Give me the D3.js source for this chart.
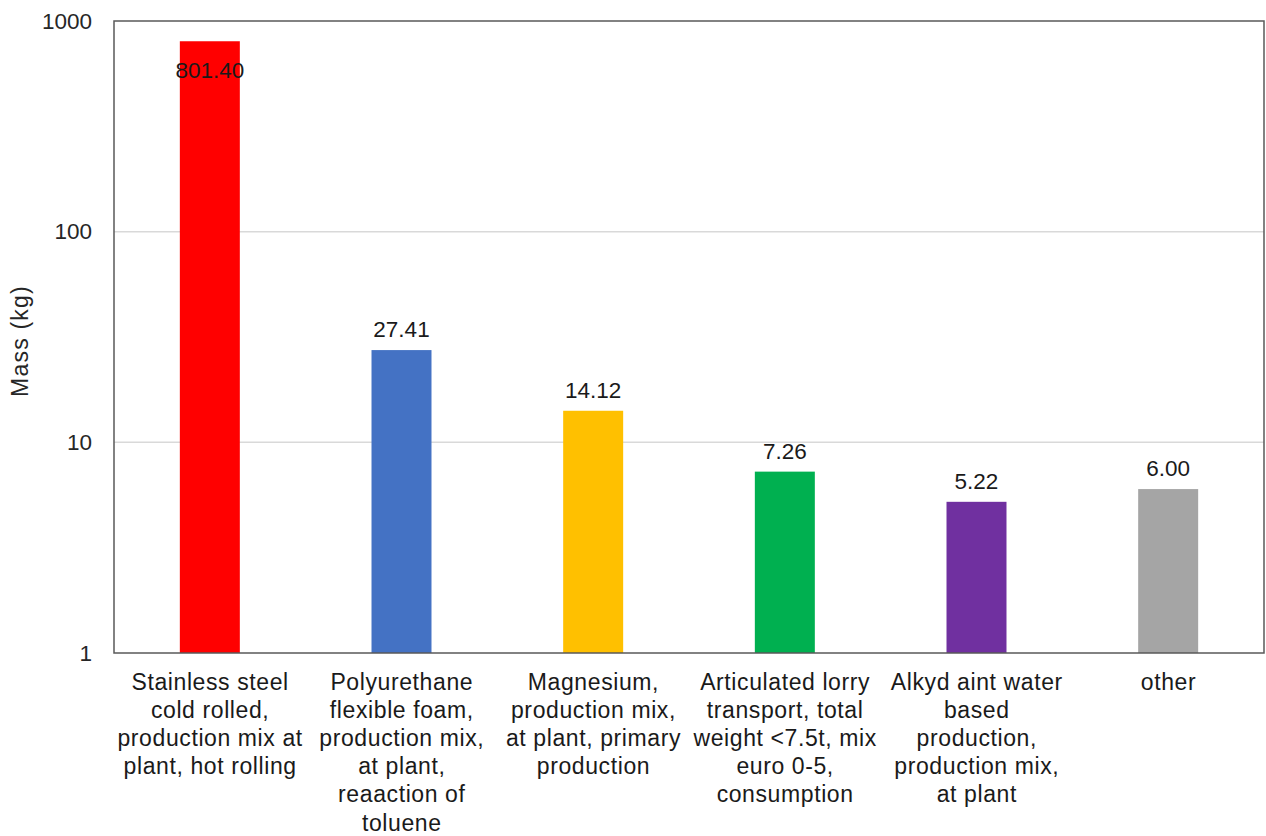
<!DOCTYPE html>
<html><head><meta charset="utf-8">
<script src="https://cdn.jsdelivr.net/npm/d3@7"></script>
<style>body{margin:0;background:#fff}svg{display:block;font-family:"Liberation Sans",Arial,sans-serif}</style>
</head><body>
<svg id="c" width="1266" height="836"></svg>
<script>
const categories = [
  ["Stainless steel","cold rolled,","production mix at","plant, hot rolling"],
  ["Polyurethane","flexible foam,","production mix,","at plant,","reaaction of","toluene"],
  ["Magnesium,","production mix,","at plant, primary","production"],
  ["Articulated lorry","transport, total","weight <7.5t, mix","euro 0-5,","consumption"],
  ["Alkyd aint water","based","production,","production mix,","at plant"],
  ["other"]
];
const values = [801.40, 27.41, 14.12, 7.26, 5.22, 6.00];
const colors = ["#FF0000","#4472C4","#FFC000","#00B050","#7030A0","#A5A5A5"];
const yTicks = [1, 10, 100, 1000];
const yTitle = "Mass (kg)";

const svg = d3.select("#c");
const L = 114, R = 1264, T = 21, B = 653;
const x = d3.scaleBand().domain(d3.range(values.length)).range([L, R]).paddingInner(0.687).paddingOuter(0.3435);
const y = d3.scaleLog().domain([1, 1000]).range([B, T]);

// gridlines
svg.append("g").selectAll("line").data(yTicks.filter(t => t > 1 && t < 1000)).join("line")
  .attr("x1", L).attr("x2", R).attr("y1", d => y(d)).attr("y2", d => y(d))
  .attr("stroke", "#d9d9d9").attr("stroke-width", 1.5);

// bars
svg.append("g").selectAll("rect").data(values).join("rect")
  .attr("x", (d, i) => x(i)).attr("width", x.bandwidth())
  .attr("y", d => y(d)).attr("height", d => B - y(d))
  .attr("fill", (d, i) => colors[i]);

// frame
svg.append("rect").attr("x", L).attr("y", T).attr("width", R - L).attr("height", B - T)
  .attr("fill", "none").attr("stroke", "#595959").attr("stroke-width", 1.5);

// y axis
const yAxis = d3.axisLeft(y).tickValues(yTicks).tickFormat(d3.format("d")).tickSize(0).tickPadding(22);
const ga = svg.append("g").attr("transform", `translate(${L},0)`).call(yAxis);
ga.select(".domain").remove();
ga.selectAll("text").attr("font-size", 22.5).attr("fill", "#262626").attr("font-family", "Liberation Sans, Arial, sans-serif");

// y title
svg.append("text").attr("transform", `translate(28,341) rotate(-90)`)
  .attr("text-anchor", "middle").attr("font-size", 23).attr("letter-spacing", 1.2)
  .attr("fill", "#262626").text(yTitle);

// value labels
svg.append("g").selectAll("text").data(values).join("text")
  .attr("x", (d, i) => x(i) + x.bandwidth() / 2)
  .attr("y", d => (y(d) - 30 < T) ? y(d) + 37 : y(d) - 13)
  .attr("text-anchor", "middle").attr("font-size", 22.5).attr("fill", "#1a1a1a")
  .text(d => d3.format(".2f")(d));

// category labels
const cg = svg.append("g").selectAll("text").data(categories).join("text")
  .attr("text-anchor", "middle").attr("font-size", 23).attr("letter-spacing", 0.6).attr("fill", "#1a1a1a")
  .attr("transform", (d, i) => `translate(${x(i) + x.bandwidth() / 2 + 0.3},0)`);
cg.selectAll("tspan").data(d => d).join("tspan")
  .attr("x", 0).attr("y", (d, j) => 689.5 + j * 28.2).text(d => d);
</script>
</body></html>
